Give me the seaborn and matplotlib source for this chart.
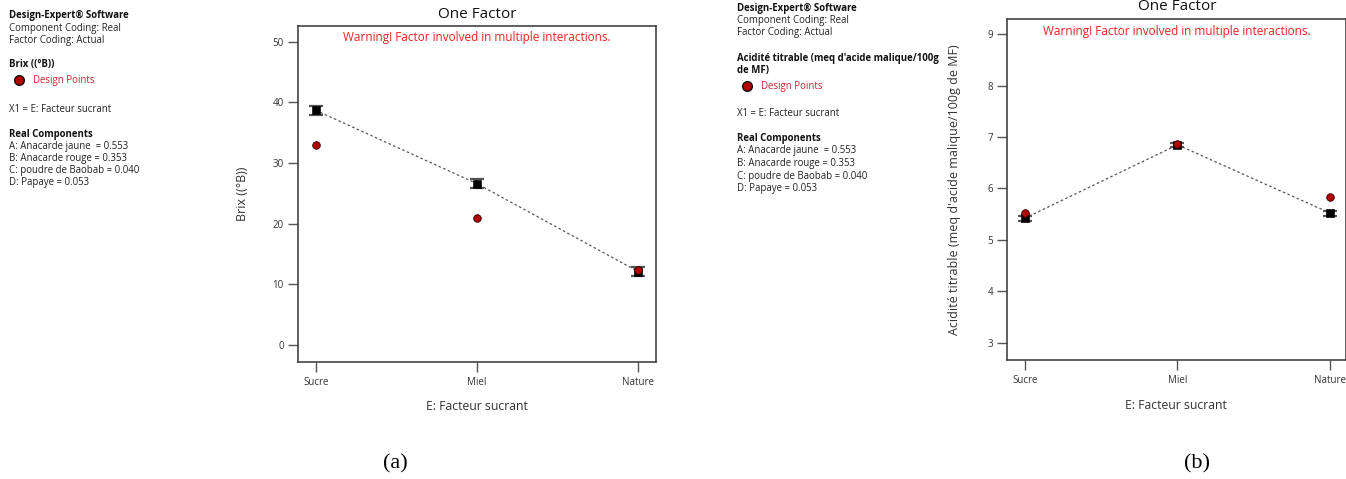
import numpy as np
import pandas as pd
import matplotlib
matplotlib.use("Agg")
import matplotlib.pyplot as plt
import seaborn as sns

# ---- data ----
categories = ["Sucre", "Miel", "Nature"]
brix_mean = [38.7, 26.6, 12.1]
brix_err = [0.75, 0.75, 0.8]
brix_points = [33.0, 20.95, 12.4]
acid_mean = [5.42, 6.85, 5.52]
acid_err = [0.05, 0.04, 0.05]
acid_points = [5.52, 6.86, 5.84]

sns.set_theme(style="white")
plt.rcParams['font.family'] = ['Open Sans', 'DejaVu Sans']

W, H = 1346, 479
fig = plt.figure(figsize=(W / 100, H / 100), dpi=100)


def px(x, y):
    return x / W, 1 - y / H


def make_panel(rect, mean, err, pts, ylim, yticks, xlim, ylabel, ylab_x):
    ax = fig.add_axes(rect)
    xs = np.arange(len(categories))
    df = pd.DataFrame({"x": xs, "mean": mean, "pts": pts})
    sns.lineplot(data=df, x="x", y="mean", ax=ax, color="#555555", lw=0.9,
                 linestyle=(0, (2, 2)), zorder=2)
    ax.errorbar(xs, mean, yerr=err, fmt="none", ecolor="#555555",
                elinewidth=1.2, capsize=4.8, capthick=1.6, zorder=3)
    sns.scatterplot(data=df, x="x", y="mean", ax=ax, marker="s", s=32,
                    color="black", edgecolor="black", zorder=4)
    sns.scatterplot(data=df, x="x", y="pts", ax=ax, marker="o", s=30,
                    color="#b00000", edgecolor="#300000", linewidth=0.6, zorder=5)
    ax.set_xlim(*xlim)
    ax.set_ylim(*ylim)
    ax.set_yticks(yticks)
    ax.set_xticks(xs)
    ax.set_xticklabels(categories)
    ax.tick_params(axis="both", direction="out", length=7, width=1,
                   color="#555555", labelsize=7, labelcolor="#333333", pad=3,
                   left=True, bottom=True)
    ax.tick_params(axis="x", pad=4)
    for s in ax.spines.values():
        s.set_color("#444444")
        s.set_linewidth(1.2)
    ax.set_xlabel("E: Facteur sucrant", fontsize=8.8, color="#333333", labelpad=9)
    ax.set_ylabel(ylabel, fontsize=9, color="#333333")
    ax.yaxis.set_label_coords(ylab_x, 0.5)
    return ax


# left panel
axL = make_panel([297.7 / W, 1 - 361.7 / H, (656 - 297.7) / W, (361.7 - 26) / H],
                 brix_mean, brix_err, brix_points, (-2.75, 52.6),
                 [0, 10, 20, 30, 40, 50], (-0.112, 2.11), "Brix ((°B))", -0.136)
# right panel
axR = make_panel([1007 / W, 1 - 360 / H, (1345.5 - 1007) / W, (360 - 19) / H],
                 acid_mean, acid_err, acid_points, (2.66, 9.30),
                 [3, 4, 5, 6, 7, 8, 9], (-0.116, 2.1),
                 "Acidité titrable (meq d'acide malique/100g de MF)", -0.136)

# titles and warnings
fig.text(*px(477, 14), "One Factor", ha="center", va="center", fontsize=11, color="#111111")
fig.text(*px(477, 38), "Warning! Factor involved in multiple interactions.",
         ha="center", va="center", fontsize=8.5, color="#ee2222")
fig.text(*px(1177, 7), "One Factor", ha="center", va="center", fontsize=11, color="#111111")
fig.text(*px(1177, 31), "Warning! Factor involved in multiple interactions.",
         ha="center", va="center", fontsize=8.5, color="#ee2222")


def info_block(x, lines):
    for (y, txt, kind) in lines:
        if kind == "b":
            fig.text(*px(x, y), txt, ha="left", va="center", fontsize=6.9,
                     fontweight="bold", color="#111111")
        elif kind == "n":
            fig.text(*px(x, y), txt, ha="left", va="center", fontsize=6.9, color="#222222")
        elif kind == "dp":
            fig.text(*px(x + 24, y), txt, ha="left", va="center", fontsize=6.9, color="#cc2233")
            fig.lines.append(matplotlib.lines.Line2D([(x + 10) / W], [1 - y / H],
                             marker="o", markersize=7, color="#b00000",
                             markeredgecolor="#111111", markeredgewidth=1.0,
                             transform=fig.transFigure))


info_block(9, [
    (15, "Design-Expert® Software", "b"),
    (28, "Component Coding: Real", "n"),
    (40, "Factor Coding: Actual", "n"),
    (65, "Brix ((°B))", "b"),
    (80, "Design Points", "dp"),
    (109, "X1 = E: Facteur sucrant", "n"),
    (134, "Real Components", "b"),
    (146, "A: Anacarde jaune  = 0.553", "n"),
    (158, "B: Anacarde rouge = 0.353", "n"),
    (171, "C: poudre de Baobab = 0.040", "n"),
    (183, "D: Papaye = 0.053", "n"),
])

info_block(737, [
    (8, "Design-Expert® Software", "b"),
    (20, "Component Coding: Real", "n"),
    (33, "Factor Coding: Actual", "n"),
    (58, "Acidité titrable (meq d'acide malique/100g", "b"),
    (70, "de MF)", "b"),
    (86, "Design Points", "dp"),
    (114, "X1 = E: Facteur sucrant", "n"),
    (139, "Real Components", "b"),
    (151, "A: Anacarde jaune  = 0.553", "n"),
    (164, "B: Anacarde rouge = 0.353", "n"),
    (176, "C: poudre de Baobab = 0.040", "n"),
    (188, "D: Papaye = 0.053", "n"),
])

# captions
fig.text(*px(395, 464), "(a)", ha="center", va="center", fontsize=16,
         family="Liberation Serif", color="black")
fig.text(*px(1197, 464), "(b)", ha="center", va="center", fontsize=16,
         family="Liberation Serif", color="black")

fig.savefig("out.png", dpi=100)
